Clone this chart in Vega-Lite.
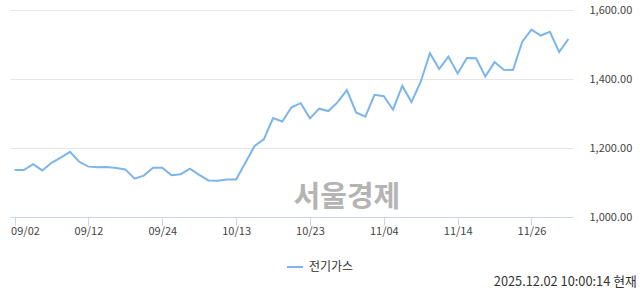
{
  "$schema": "https://vega.github.io/schema/vega-lite/v6.json",
  "width": 563,
  "height": 207,
  "autosize": {"type": "none"},
  "padding": {"left": 10, "top": 10, "right": 67, "bottom": 77},
  "background": "white",
  "config": {"view": {"stroke": null}, "font": "Noto Sans CJK KR"},
  "title": {"text": "2025.12.02 10:00:14 현재", "orient": "bottom", "anchor": "end", "frame": "bounds", "fontSize": 12.8, "fontWeight": "normal", "color": "#333333", "offset": 3, "dx": 5},
  "data": {"values": [
    {"d": "09/02", "v": 1136}, {"d": "09/03", "v": 1136}, {"d": "09/04", "v": 1153}, {"d": "09/05", "v": 1135},
    {"d": "09/08", "v": 1157}, {"d": "09/09", "v": 1172}, {"d": "09/10", "v": 1189}, {"d": "09/11", "v": 1160},
    {"d": "09/12", "v": 1146}, {"d": "09/15", "v": 1144}, {"d": "09/16", "v": 1145}, {"d": "09/17", "v": 1142},
    {"d": "09/18", "v": 1138}, {"d": "09/19", "v": 1111}, {"d": "09/22", "v": 1120}, {"d": "09/23", "v": 1143},
    {"d": "09/24", "v": 1143}, {"d": "09/25", "v": 1121}, {"d": "09/26", "v": 1124}, {"d": "09/29", "v": 1140},
    {"d": "09/30", "v": 1122}, {"d": "10/01", "v": 1106}, {"d": "10/02", "v": 1105}, {"d": "10/10", "v": 1109},
    {"d": "10/13", "v": 1109}, {"d": "10/14", "v": 1157}, {"d": "10/15", "v": 1206}, {"d": "10/16", "v": 1225},
    {"d": "10/17", "v": 1287}, {"d": "10/20", "v": 1277}, {"d": "10/21", "v": 1318}, {"d": "10/22", "v": 1330},
    {"d": "10/23", "v": 1286}, {"d": "10/24", "v": 1314}, {"d": "10/27", "v": 1307}, {"d": "10/28", "v": 1333},
    {"d": "10/29", "v": 1368}, {"d": "10/30", "v": 1303}, {"d": "10/31", "v": 1291}, {"d": "11/03", "v": 1354},
    {"d": "11/04", "v": 1350}, {"d": "11/05", "v": 1311}, {"d": "11/06", "v": 1380}, {"d": "11/07", "v": 1333},
    {"d": "11/10", "v": 1392}, {"d": "11/11", "v": 1475}, {"d": "11/12", "v": 1429}, {"d": "11/13", "v": 1465},
    {"d": "11/14", "v": 1416}, {"d": "11/17", "v": 1461}, {"d": "11/18", "v": 1460}, {"d": "11/19", "v": 1407},
    {"d": "11/20", "v": 1449}, {"d": "11/21", "v": 1427}, {"d": "11/24", "v": 1426}, {"d": "11/25", "v": 1508},
    {"d": "11/26", "v": 1543}, {"d": "11/27", "v": 1526}, {"d": "11/28", "v": 1537}, {"d": "12/01", "v": 1478},
    {"d": "12/02", "v": 1516}
  ]},
  "layer": [
    {
      "mark": {"type": "line", "strokeWidth": 2},
      "encoding": {
        "x": {
          "field": "d", "type": "ordinal", "sort": null,
          "scale": {"type": "point", "padding": 0.5},
          "axis": {
            "title": null,
            "values": ["09/02", "09/12", "09/24", "10/13", "10/23", "11/04", "11/14", "11/26"],
            "labelAngle": 0, "domainColor": "#ccd6eb", "tickColor": "#ccd6eb", "tickSize": 8,
            "labelPadding": 0, "labelFontSize": 11, "labelColor": "#444444",
            "labelFlush": 6, "labelFlushOffset": 4, "grid": false
          }
        },
        "y": {
          "field": "v", "type": "quantitative",
          "scale": {"domain": [1000, 1600], "nice": false, "zero": false},
          "axis": {
            "orient": "right", "title": null, "values": [1000, 1200, 1400, 1600], "format": ",.2f",
            "domain": false, "ticks": false, "gridColor": "#e6e6e6", "labelPadding": 16, "labelAlign": "left",
            "labelFontSize": 11, "labelColor": "#444444"
          }
        },
        "color": {
          "datum": "전기가스", "type": "nominal",
          "scale": {"range": ["#7cb5ec"]},
          "legend": {
            "orient": "none", "legendX": 276, "legendY": 248, "title": null, "symbolType": "stroke",
            "symbolSize": 256, "symbolStrokeWidth": 2, "labelFontSize": 12, "labelColor": "#333333",
            "labelOffset": 5, "padding": 0
          }
        }
      }
    },
    {
      "transform": [{"filter": "datum.d === '10/29'"}],
      "mark": {"type": "text", "fontSize": 29, "fontWeight": "bold", "color": "#b4b4b4", "align": "center", "baseline": "middle"},
      "encoding": {
        "x": {"field": "d", "type": "ordinal", "sort": null},
        "y": {"datum": 1055, "type": "quantitative"},
        "text": {"value": "서울경제"}
      }
    }
  ]
}
